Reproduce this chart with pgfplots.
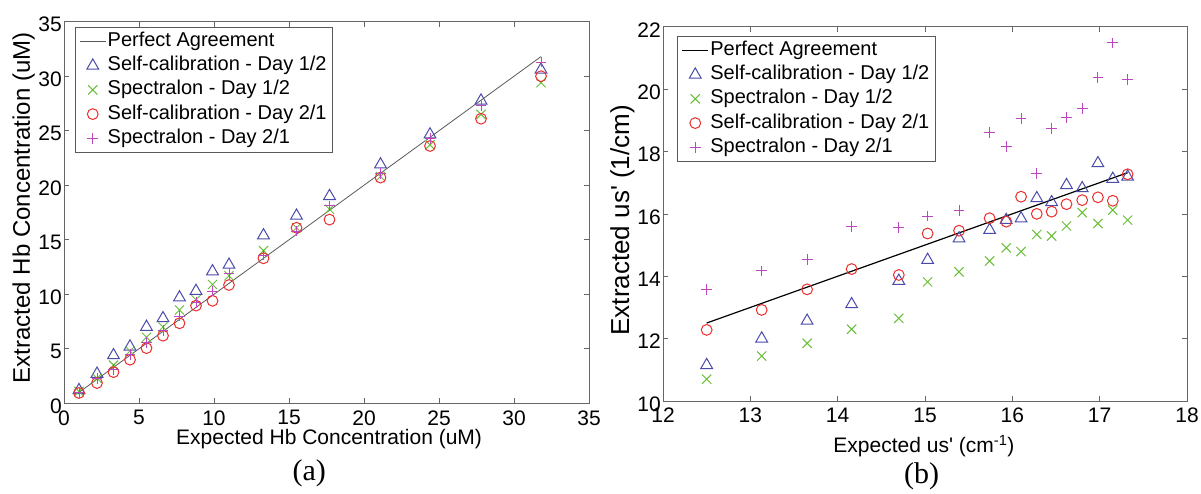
\documentclass[border=0pt]{standalone}
\usepackage{fontspec}
\setmainfont{Liberation Sans}[Ligatures=TeXOff]
\newfontfamily\serif{Liberation Serif}
\usepackage{pgfplots}
\usepackage{pgfplotstable}
\pgfplotsset{compat=1.18}

\definecolor{cTri}{RGB}{75,75,170}
\definecolor{cX}{RGB}{105,190,55}
\definecolor{cO}{RGB}{235,45,45}
\definecolor{cP}{RGB}{190,70,190}

% panel (a): expected Hb vs extracted
\pgfplotstableread{
x     tri    cx     circ   plus
1.0   1.2    1.1    0.95   1.0
2.2   2.7    2.3    1.86   2.3
3.3   4.4    3.5    2.86   3.1
4.4   5.2    4.8    4.0    4.5
5.5   7.0    6.06   5.06   5.6
6.6   7.8    7.0    6.2    6.7
7.7   9.7    8.56   7.34   8.0
8.8   10.3   9.5    8.96   9.26
9.9   12.1   10.9   9.4    10.3
11.0  12.7   11.7   10.85  11.9
13.3  15.4   14.0   13.3   13.6
15.5  17.2   16.1   16.1   15.8
17.7  19.0   17.8   16.85  18.1
21.1  21.9   20.8   20.7   21.1
24.4  24.65  23.7   23.6   24.3
27.8  27.76  26.5   26.1   27.3
31.8  30.6   29.4   30.0   31.3
}\hbdata

% panel (b): expected us' vs extracted
\pgfplotstableread{
x      tri    cx     circ   plus
12.5   11.15  10.7   12.28  13.58
13.13  12.0   11.44  12.92  14.17
13.65  12.57  11.85  13.58  14.54
14.16  13.1   12.3   14.23  15.59
14.7   13.85  12.65  14.04  15.57
15.03  14.52  13.82  15.37  15.93
15.39  15.21  14.14  15.46  16.1
15.74  15.48  14.49  15.86  18.6
15.93  15.8   14.91  15.75  18.15
16.1   15.85  14.79  16.55  19.06
16.28  16.5   15.34  16.0   17.3
16.45  16.37  15.29  16.07  18.74
16.62  16.92  15.61  16.31  19.09
16.8   16.82  16.04  16.44  19.38
16.98  17.62  15.69  16.53  20.37
17.15  17.12  16.12  16.42  21.48
17.32  17.19  15.8   17.27  20.31
}\usdata

\pgfplotsset{
  panel/.style={
    scale only axis, clip=false,
    axis line style={gray!80!black, line width=0.7pt},
    tick align=inside, major tick length=5pt,
    every tick/.style={gray!80!black, line width=0.7pt},
    ticklabel style={font=\fontsize{21}{25}\selectfont},
    /pgf/number format/assume math mode=true,
    xticklabel style={inner ysep=7pt},
    yticklabel style={inner xsep=2pt, yshift=-3pt},
    legend cell align=left,
    legend style={font=\fontsize{20}{24}\selectfont, draw=gray!70!black,
      line width=0.7pt, inner xsep=4pt, inner ysep=2pt, row sep=0pt,
      nodes={inner xsep=1.5pt, inner ysep=2.6pt, text height=14.5pt, text depth=4.5pt}},
    legend image code/.code={\draw[mark repeat=2,mark phase=2,#1]
      plot coordinates {(0pt,0pt) (13pt,0pt) (26pt,0pt)};},
    every axis x label/.style={anchor=base, font=\fontsize{21}{25}\selectfont},
    every axis y label/.style={rotate=90, anchor=base, font=\fontsize{24}{28}\selectfont},
  },
  sTri/.style={only marks, mark=triangle, mark size=6.8pt, cTri, mark options={line width=1pt}},
  sX/.style={only marks, mark=x, mark size=6.5pt, cX, mark options={line width=1pt}},
  sO/.style={only marks, mark=o, mark size=5.4pt, cO, mark options={line width=1pt}},
  sP/.style={only marks, mark=+, mark size=5.4pt, cP, mark options={line width=1pt}},
}

\begin{document}
\begin{tikzpicture}
\path[use as bounding box] (0,0) rectangle (1201pt,493pt);

\begin{axis}[panel,
  at={(64pt,89.7pt)}, anchor=south west,
  width=525pt, height=381.6pt,
  xmin=0, xmax=35, ymin=0, ymax=35,
  xtick={0,5,...,35}, ytick={0,5,...,35},
  xlabel={Expected Hb Concentration (uM)},
  ylabel={Extracted Hb Concentration (uM)},
  x label style={at={(axis description cs:0.505,-0.108)}},
  y label style={at={(axis description cs:-0.0648,0.512)}},
  legend style={at={(axis description cs:0.021,0.986)}, anchor=north west},
]
\addplot[gray!70!black, line width=0.8pt] coordinates {(1,1) (31.8,31.8)};
\addlegendentry{Perfect Agreement}
\addplot[sTri] table[x=x, y=tri] {\hbdata};
\addlegendentry{Self-calibration - Day 1/2}
\addplot[sX] table[x=x, y=cx] {\hbdata};
\addlegendentry{Spectralon - Day 1/2}
\addplot[sO] table[x=x, y=circ] {\hbdata};
\addlegendentry{Self-calibration - Day 2/1}
\addplot[sP] table[x=x, y=plus] {\hbdata};
\addlegendentry{Spectralon - Day 2/1}
\node[font=\serif\fontsize{30}{34}\selectfont] at (axis description cs:0.467,-0.1827) {(a)};
\end{axis}

\begin{axis}[panel,
  at={(663pt,92pt)}, anchor=south west,
  width=524pt, height=374.3pt,
  xmin=12, xmax=18, ymin=10, ymax=22,
  xtick={12,...,18}, ytick={10,12,...,22},
  xlabel={Expected us' (cm\textsuperscript{-1})},
  ylabel={Extracted us' (1/cm)},
  x label style={at={(axis description cs:0.498,-0.138)}},
  y label style={at={(axis description cs:-0.0649,0.483)}, font=\fontsize{26}{30}\selectfont},
  legend style={at={(axis description cs:0.0273,0.975)}, anchor=north west},
]
\addplot[black, line width=1.2pt] coordinates {(12.5,12.5) (17.32,17.32)};
\addlegendentry{Perfect Agreement}
\addplot[sTri] table[x=x, y=tri] {\usdata};
\addlegendentry{Self-calibration - Day 1/2}
\addplot[sX] table[x=x, y=cx] {\usdata};
\addlegendentry{Spectralon - Day 1/2}
\addplot[sO] table[x=x, y=circ] {\usdata};
\addlegendentry{Self-calibration - Day 2/1}
\addplot[sP] table[x=x, y=plus] {\usdata};
\addlegendentry{Spectralon - Day 2/1}
\node[font=\serif\fontsize{30}{34}\selectfont] at (axis description cs:0.4937,-0.2017) {(b)};
\end{axis}
\end{tikzpicture}
\end{document}
